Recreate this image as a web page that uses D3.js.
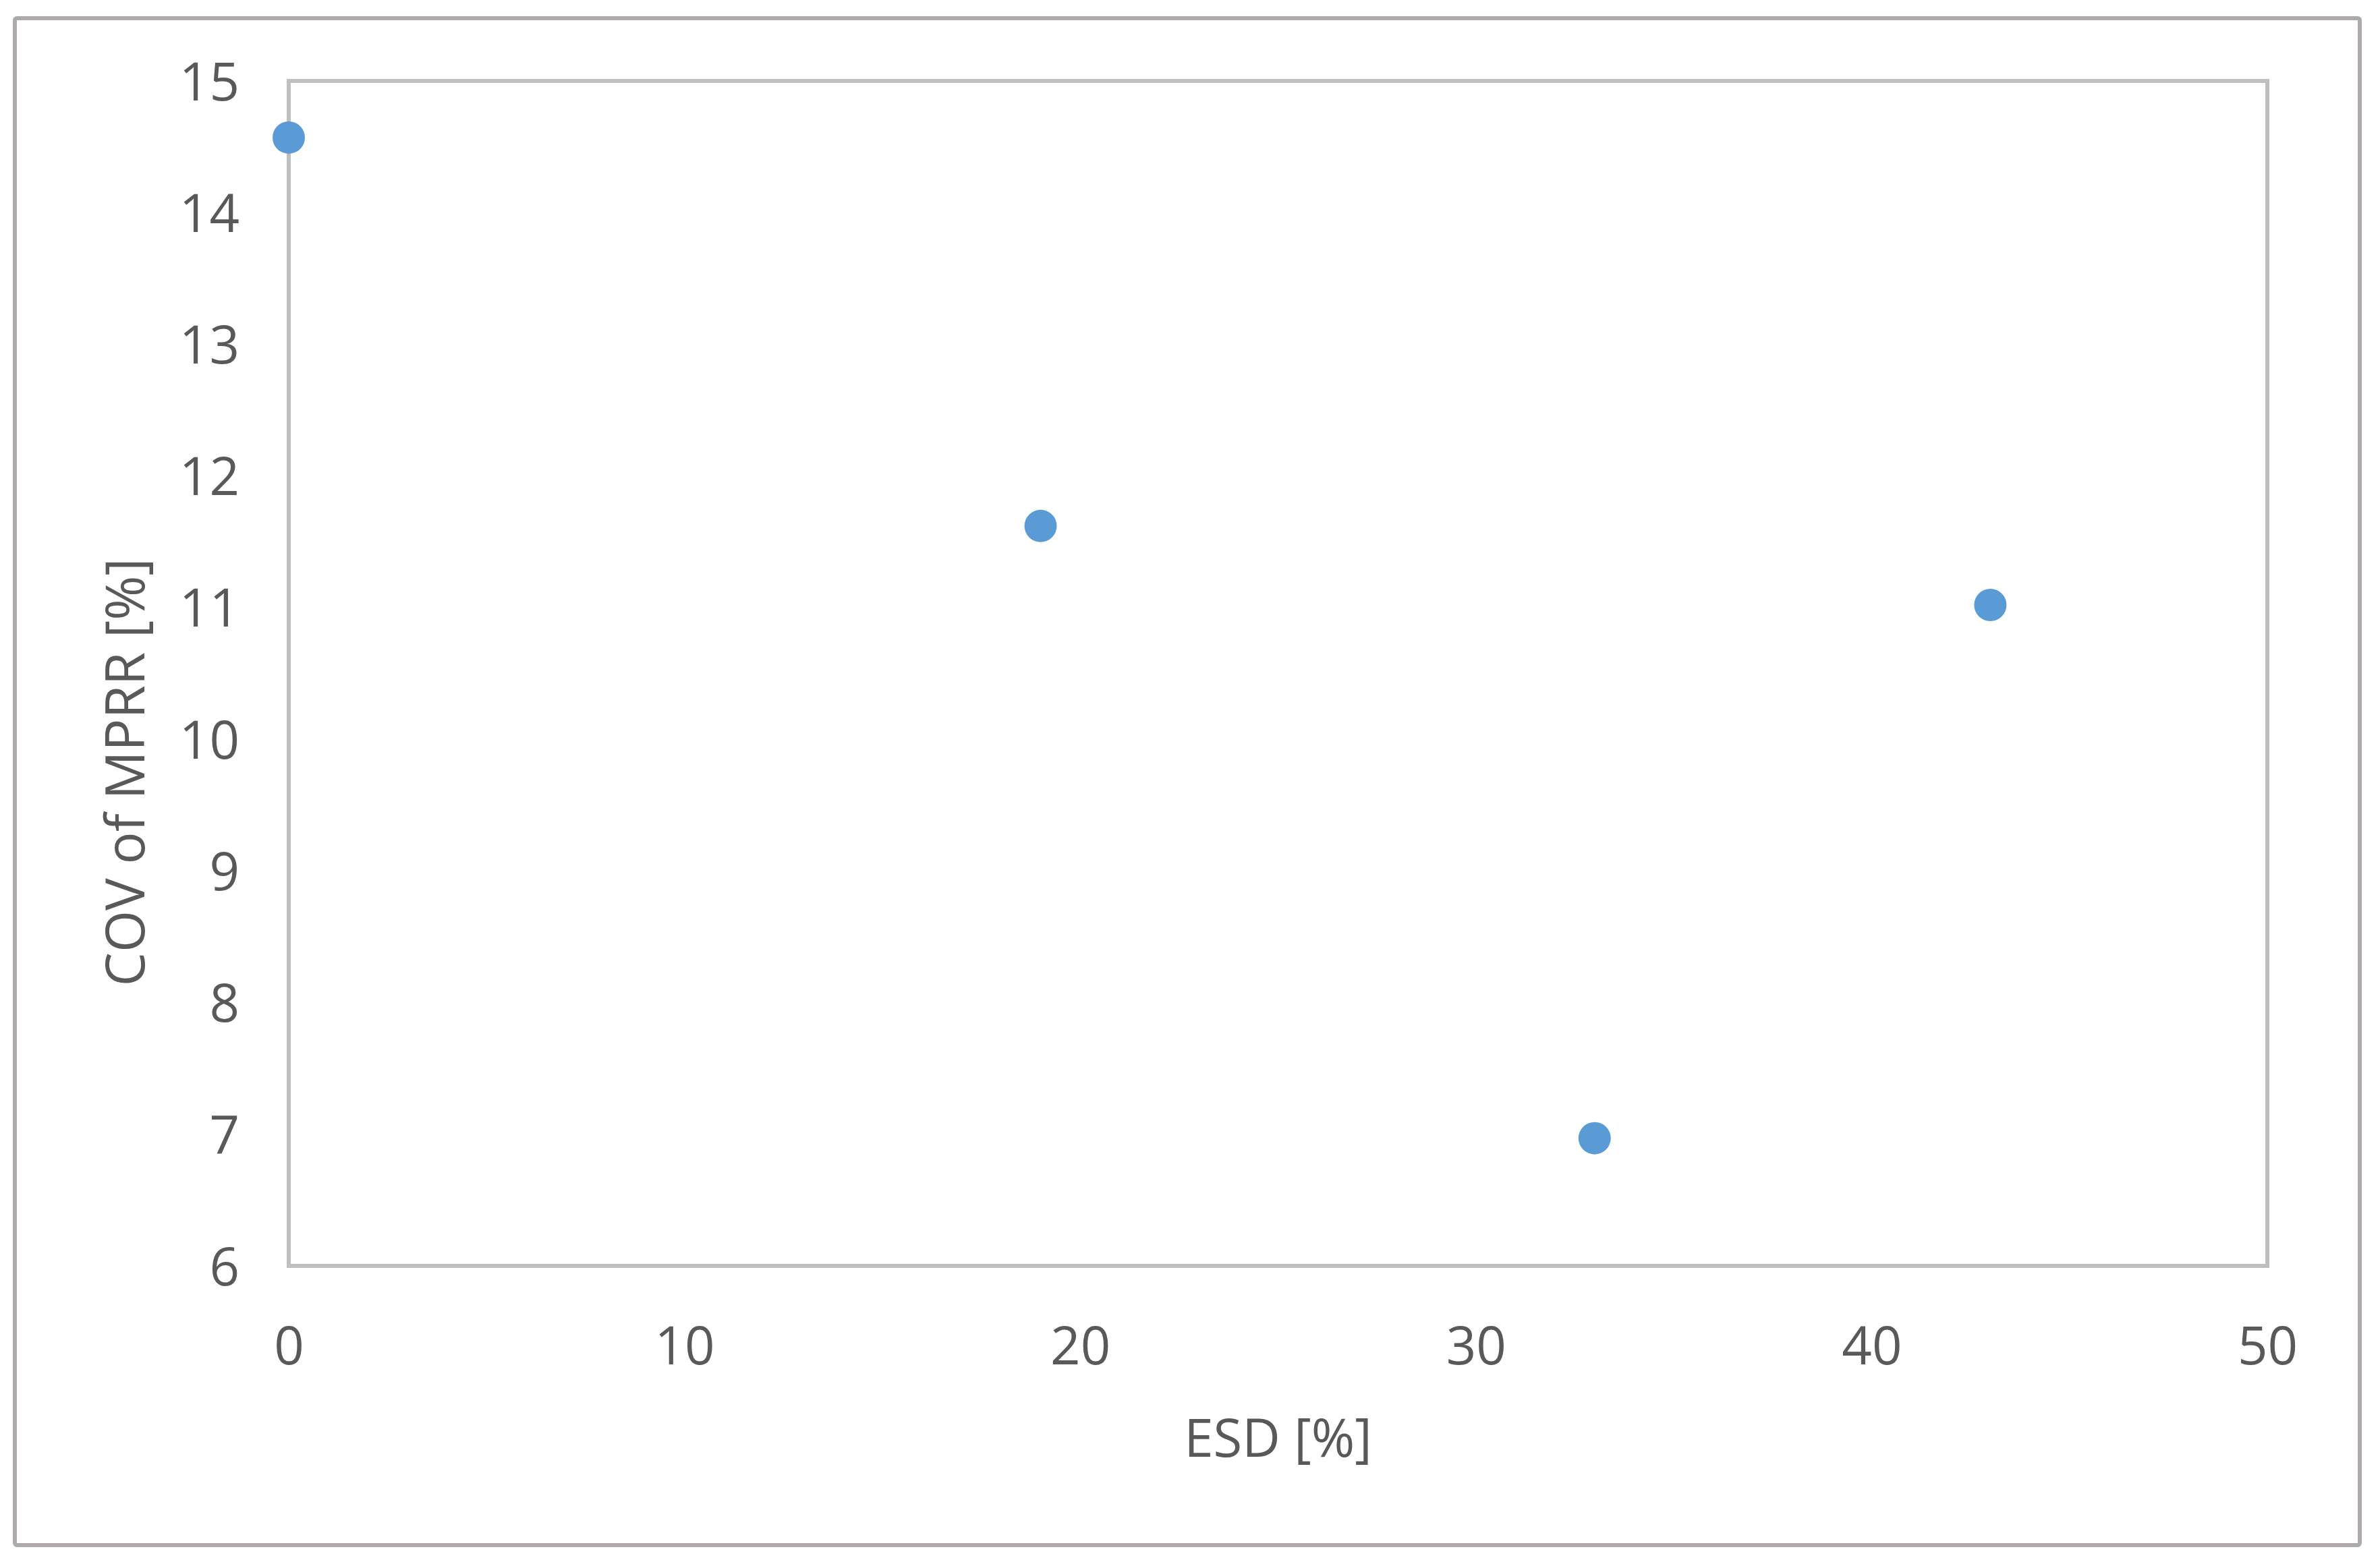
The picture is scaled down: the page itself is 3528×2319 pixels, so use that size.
<!DOCTYPE html>
<html>
<head>
<meta charset="utf-8">
<script src="https://cdn.jsdelivr.net/npm/d3@7"></script>
<style>
  html, body { margin: 0; padding: 0; background: #fff; }
  svg { display: block; }
</style>
</head>
<body>
<svg id="chart" width="3528" height="2319"></svg>
<script>
const esd = [0, 19, 33, 43];
const cov = [14.57, 11.62, 6.97, 11.02];
const xTicks = [0, 10, 20, 30, 40, 50];
const yTicks = [6, 7, 8, 9, 10, 11, 12, 13, 14, 15];
const xTitle = "ESD [%]";
const yTitle = "COV of MPRR [%]";

const W = 3528, H = 2319;
const plot = { left: 428, right: 3361, top: 120, bottom: 1877 };
const font = "'Open Sans', 'Liberation Sans', sans-serif";
const textColor = "#595959";

const svg = d3.select("#chart");

// outer chart border
svg.append("rect")
  .attr("x", 22).attr("y", 27)
  .attr("width", 3498 - 22).attr("height", 2291 - 27)
  .attr("rx", 3)
  .attr("fill", "#fff")
  .attr("stroke", "#AFABAB")
  .attr("stroke-width", 6);

const x = d3.scaleLinear().domain([0, 50]).range([plot.left, plot.right]);
const y = d3.scaleLinear().domain([6, 15]).range([plot.bottom, plot.top]);

// plot area border
svg.append("rect")
  .attr("x", plot.left).attr("y", plot.top)
  .attr("width", plot.right - plot.left).attr("height", plot.bottom - plot.top)
  .attr("fill", "none")
  .attr("stroke", "#BFBFBF")
  .attr("stroke-width", 6);

// x axis labels
const xAxis = d3.axisBottom(x).tickValues(xTicks).tickSize(0).tickPadding(0);
const gx = svg.append("g").attr("transform", `translate(0,${plot.bottom})`).call(xAxis);
gx.select(".domain").remove();
gx.selectAll("text")
  .attr("dy", null)
  .attr("y", 146)
  .attr("font-family", font)
  .attr("font-size", 78)
  .attr("fill", textColor);

// y axis labels
const yAxis = d3.axisLeft(y).tickValues(yTicks).tickSize(0).tickPadding(0);
const gy = svg.append("g").attr("transform", `translate(${plot.left},0)`).call(yAxis);
gy.select(".domain").remove();
gy.selectAll("text")
  .attr("x", -73)
  .attr("dy", "0.36em")
  .attr("font-family", font)
  .attr("font-size", 78)
  .attr("fill", textColor);

// axis titles
svg.append("text")
  .attr("x", (plot.left + plot.right) / 2)
  .attr("y", 2160)
  .attr("text-anchor", "middle")
  .attr("font-family", font)
  .attr("font-size", 78)
  .attr("fill", textColor)
  .text(xTitle);

svg.append("text")
  .attr("transform", `translate(214,1145) rotate(-90)`)
  .attr("text-anchor", "middle")
  .attr("font-family", font)
  .attr("font-size", 80)
  .attr("fill", textColor)
  .text(yTitle);

// points
const data = esd.map((d, i) => ({ x: d, y: cov[i] }));
svg.append("g").selectAll("circle")
  .data(data)
  .join("circle")
  .attr("cx", d => x(d.x))
  .attr("cy", d => y(d.y))
  .attr("r", 24)
  .attr("fill", "#5B9BD5");
</script>
</body>
</html>
